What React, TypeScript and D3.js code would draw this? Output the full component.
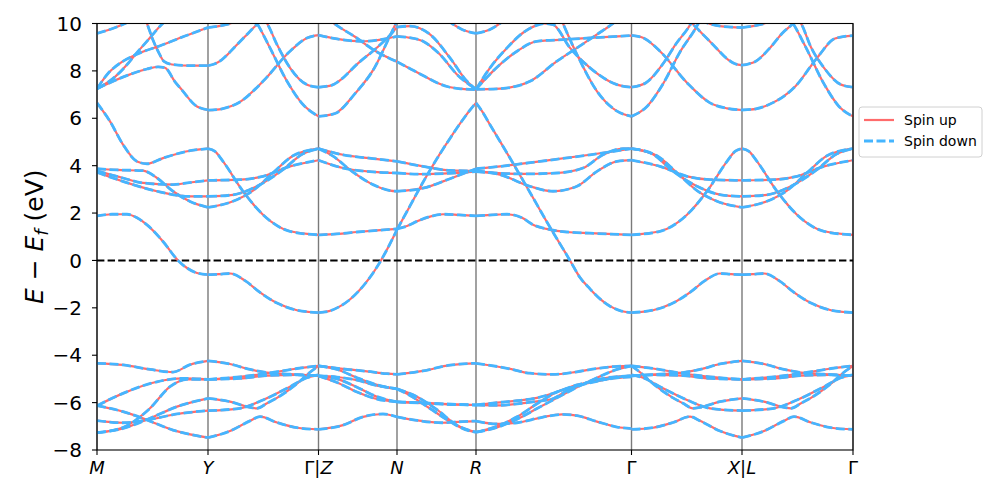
import React from "react";
import * as d3 from "d3";

type Pt = [number, number];

// k path positions of the high-symmetry points (path length, arb. units)
const kTicks = [0, 111, 221.5, 300, 379, 534.5, 645, 756];
const kLabels = [
  [{ t: "M", i: true }],
  [{ t: "Y", i: true }],
  [{ t: "Γ|", i: false }, { t: "Z", i: true }],
  [{ t: "N", i: true }],
  [{ t: "R", i: true }],
  [{ t: "Γ", i: false }],
  [{ t: "X", i: true }, { t: "|", i: false }, { t: "L", i: true }],
  [{ t: "Γ", i: false }],
];
const yTicks = [-8, -6, -4, -2, 0, 2, 4, 6, 8, 10];

// bands, one list per path segment: [k, E - Ef]
const bandsMY: Pt[][] = [
  [[0, 9.58], [15, 9.78], [28, 10.0], [40, 10.25]],
  [[0, 7.25], [18, 7.75], [31, 8.31], [38, 8.67], [51, 9.3], [65, 9.97], [75, 10.3]],
  [[0, 7.25], [11, 7.89], [25, 8.38], [38, 8.67], [65, 9.09], [88, 9.47], [111, 9.83]],
  [[46, 10.4], [50, 10.0], [56, 9.3], [62, 8.75], [67, 8.4], [75, 8.27], [95, 8.22], [111, 8.22]],
  [[0, 7.25], [31, 7.82], [50, 8.08], [61, 8.17], [68, 8.13], [78, 7.54], [85, 7.19], [98, 6.56], [111, 6.35]],
  [[0, 6.65], [13, 5.87], [26, 4.89], [40, 4.18], [50, 4.08], [66, 4.32], [93, 4.63], [111, 4.72]],
  [[0, 3.87], [20, 3.82], [46, 3.79], [60, 3.48], [76, 2.92], [93, 2.49], [111, 2.24]],
  [[0, 3.78], [26, 3.48], [46, 3.27], [76, 3.2], [95, 3.3], [111, 3.38]],
  [[0, 3.72], [36, 3.2], [60, 2.92], [93, 2.7], [111, 2.7]],
  [[0, 1.88], [15, 1.95], [30, 1.95], [40, 1.8], [50, 1.5], [66, 0.8], [81, 0], [90, -0.32], [100, -0.53], [111, -0.6]],
  [[0, -4.34], [26, -4.41], [53, -4.6], [76, -4.71], [93, -4.4], [111, -4.24]],
  [[0, -6.13], [26, -5.61], [60, -5.12], [86, -4.98], [111, -5.02]],
  [[0, -6.13], [26, -6.38], [50, -6.73], [76, -7.16], [111, -7.48]],
  [[0, -6.76], [26, -6.85], [53, -6.71], [80, -6.48], [111, -6.34]],
  [[0, -7.27], [26, -7.09], [53, -6.66], [80, -6.17], [111, -5.82]],
  [[0, -7.27], [26, -7.05], [53, -6.24], [73, -5.33], [90, -5.02], [111, -5.02]],
];

const bandsYZ: Pt[][] = [
  [[111, 9.83], [120, 9.88], [131, 9.97], [142, 10.15]],
  [[111, 8.22], [118, 8.3], [125, 8.48], [138, 9.02], [151, 9.58], [160, 9.97], [168, 10.3]],
  [[163, 10.3], [170, 10.0], [180, 9.11], [193, 8.13], [210, 7.42], [221.5, 7.31]],
  [[153, 10.4], [160, 10.0], [173, 8.97], [190, 7.56], [206, 6.58], [221.5, 6.08]],
  [[111, 6.34], [125, 6.4], [143, 6.69], [166, 7.56], [193, 8.83], [210, 9.39], [221.5, 9.51]],
  [[111, 4.72], [118, 4.6], [126, 4.18], [146, 2.92], [166, 1.93], [193, 1.23], [221.5, 1.08]],
  [[111, 2.24], [136, 2.5], [156, 2.95], [176, 3.7], [196, 4.42], [221.5, 4.72]],
  [[111, 2.7], [136, 2.77], [160, 3.13], [185, 3.8], [206, 4.5], [221.5, 4.72]],
  [[111, 3.38], [143, 3.41], [166, 3.55], [193, 3.97], [221.5, 4.23]],
  [[111, -0.6], [122, -0.58], [133, -0.55], [148, -0.85], [163, -1.35], [180, -1.8], [200, -2.1], [221.5, -2.2]],
  [[111, -4.24], [133, -4.37], [153, -4.6], [170, -4.73], [193, -4.8], [221.5, -4.87]],
  [[111, -5.02], [143, -4.91], [170, -4.77], [200, -4.56], [221.5, -4.45]],
  [[111, -5.02], [143, -4.98], [170, -4.86], [200, -4.83], [221.5, -4.87]],
  [[111, -5.82], [133, -5.96], [153, -6.2], [160, -6.24], [170, -6.03], [180, -5.8], [200, -5.2], [212, -4.75], [221.5, -4.45]],
  [[111, -6.34], [143, -6.24], [166, -5.89], [193, -5.33], [210, -4.95], [221.5, -4.83]],
  [[111, -7.48], [133, -7.2], [153, -6.77], [163, -6.59], [180, -6.84], [200, -7.06], [221.5, -7.13]],
];

const bandsZN: Pt[][] = [
  [[221.5, 9.51], [240, 9.35], [255, 9.27], [268, 9.25], [285, 9.33], [300, 9.46]],
  [[228, 10.3], [238, 9.97], [258, 9.44], [278, 8.85], [300, 8.39]],
  [[221.5, 7.31], [235, 7.4], [241, 7.54], [261, 8.32], [281, 9.02], [295, 9.6], [300, 9.85]],
  [[221.5, 6.08], [238, 6.2], [258, 7.04], [278, 8.17], [291, 9.3], [298, 9.93], [300, 10.1]],
  [[221.5, 1.08], [240, 1.12], [260, 1.2], [280, 1.27], [300, 1.33]],
  [[221.5, -2.2], [232, -2.14], [242, -1.96], [252, -1.68], [262, -1.28], [272, -0.77], [282, -0.14], [292, 0.62], [300, 1.3]],
  [[221.5, 4.72], [246, 4.46], [276, 4.3], [300, 4.18]],
  [[221.5, 4.23], [246, 3.9], [276, 3.74], [300, 3.69]],
  [[221.5, 4.72], [236, 4.4], [255, 3.76], [276, 3.2], [293, 2.95], [300, 2.92]],
  [[221.5, -4.45], [246, -4.58], [270, -4.68], [290, -4.78], [300, -4.81]],
  [[221.5, -4.45], [240, -4.6], [260, -4.95], [280, -5.25], [300, -5.42]],
  [[221.5, -4.87], [240, -4.92], [260, -5.05], [280, -5.28], [300, -5.42]],
  [[221.5, -4.87], [240, -5.0], [260, -5.35], [280, -5.75], [300, -5.97]],
  [[221.5, -4.87], [240, -5.15], [260, -5.55], [280, -5.85], [300, -5.97]],
  [[221.5, -7.13], [246, -6.95], [266, -6.6], [286, -6.48], [300, -6.6]],
];

const bandsNR: Pt[][] = [
  [[300, 9.46], [310, 9.42], [326, 9.25], [343, 8.69], [360, 7.85], [379, 7.22]],
  [[300, 9.85], [313, 9.89], [333, 9.54], [353, 8.55], [370, 7.56], [379, 7.22]],
  [[300, 8.39], [315, 8.05], [328, 7.76], [340, 7.5], [351, 7.33], [365, 7.24], [379, 7.21]],
  [[350, 10.15], [365, 9.75], [379, 9.58]],
  [[300, 1.3], [313, 2.3], [326, 3.3], [340, 4.3], [353, 5.15], [366, 5.95], [374, 6.4], [379, 6.65]],
  [[300, 1.33], [310, 1.45], [320, 1.65], [333, 1.85], [346, 1.95], [362, 1.92], [379, 1.88]],
  [[300, 4.18], [326, 3.97], [353, 3.8], [379, 3.78]],
  [[300, 3.69], [326, 3.64], [353, 3.68], [379, 3.75]],
  [[300, 2.92], [326, 3.05], [353, 3.45], [379, 3.87]],
  [[300, -4.81], [326, -4.66], [353, -4.42], [379, -4.34]],
  [[300, -5.42], [313, -5.7], [333, -6.25], [353, -6.8], [366, -7.1], [379, -7.25]],
  [[300, -5.42], [320, -5.75], [340, -6.3], [360, -6.95], [379, -7.25]],
  [[300, -5.97], [330, -6.03], [355, -6.08], [379, -6.1]],
  [[300, -5.97], [320, -6.0], [345, -6.05], [379, -6.1]],
  [[300, -6.6], [320, -6.75], [345, -6.85], [365, -6.8], [379, -6.78]],
];

const bandsRG: Pt[][] = [
  [[379, 9.58], [393, 9.75], [408, 10.15]],
  [[379, 7.22], [393, 8.13], [410, 8.97], [426, 9.61], [438, 9.9], [447, 10.0], [456, 9.95], [473, 8.97], [493, 8.13], [520, 7.42], [534.5, 7.31]],
  [[379, 7.22], [396, 7.99], [420, 8.83], [440, 9.25], [466, 9.32], [493, 9.39], [534.5, 9.49]],
  [[379, 7.22], [403, 7.25], [433, 7.56], [460, 8.41], [480, 8.97], [500, 9.54], [516, 10.0], [522, 10.2]],
  [[462, 10.4], [466, 10.0], [480, 8.69], [500, 7.14], [520, 6.3], [534.5, 6.08]],
  [[379, 6.65], [385, 6.3], [393, 5.73], [413, 4.32], [433, 2.87], [453, 1.4], [473, 0.0], [483, -0.72], [493, -1.2], [503, -1.62], [513, -1.93], [523, -2.12], [534.5, -2.2]],
  [[379, 1.88], [395, 1.92], [410, 1.95], [425, 1.8], [436, 1.51], [453, 1.3], [470, 1.2], [493, 1.15], [534.5, 1.08]],
  [[379, 3.87], [403, 3.97], [443, 4.18], [493, 4.46], [534.5, 4.72]],
  [[379, 3.78], [403, 3.62], [433, 3.13], [456, 2.92], [480, 3.13], [500, 3.76], [520, 4.18], [534.5, 4.23]],
  [[379, 3.75], [426, 3.65], [460, 3.69], [486, 3.9], [506, 4.46], [526, 4.72], [534.5, 4.72]],
  [[379, -4.34], [410, -4.55], [433, -4.76], [456, -4.81], [480, -4.7], [500, -4.56], [520, -4.47], [534.5, -4.45]],
  [[379, -6.1], [400, -6.0], [420, -5.92], [440, -5.8], [460, -5.55], [480, -5.25], [500, -5.08], [520, -4.96], [534.5, -4.91]],
  [[379, -6.1], [400, -6.12], [420, -6.05], [440, -5.95], [455, -5.85], [470, -5.5], [490, -5.15], [510, -4.95], [534.5, -4.87]],
  [[379, -7.25], [400, -7.05], [420, -6.7], [440, -6.25], [460, -5.8], [480, -5.35], [500, -4.95], [520, -4.6], [534.5, -4.45]],
  [[379, -7.25], [400, -7.0], [420, -6.6], [440, -6.05], [460, -5.55], [480, -5.3], [500, -5.1], [520, -4.93], [534.5, -4.87]],
  [[379, -6.78], [400, -6.9], [420, -6.85], [445, -6.62], [465, -6.5], [480, -6.55], [500, -6.8], [520, -7.03], [534.5, -7.1]],
];

const bandsGX: Pt[][] = [
  [[534.5, 9.5], [546, 9.4], [563, 8.83], [590, 7.5], [613, 6.65], [630, 6.42], [645, 6.35]],
  [[534.5, 7.31], [549, 7.5], [566, 8.3], [580, 9.2], [591, 9.8], [594, 10.0], [600, 10.4]],
  [[534.5, 6.08], [550, 6.5], [566, 7.45], [583, 8.8], [600, 9.9], [605, 10.3]],
  [[588, 10.3], [596, 9.97], [605, 9.58], [618, 9.02], [631, 8.48], [638, 8.3], [645, 8.24]],
  [[603, 10.15], [614, 9.97], [625, 9.88], [645, 9.83]],
  [[534.5, 1.08], [563, 1.23], [590, 1.93], [610, 2.92], [630, 4.18], [638, 4.6], [645, 4.72]],
  [[534.5, 4.23], [563, 3.97], [590, 3.55], [613, 3.41], [645, 3.38]],
  [[534.5, 4.72], [560, 4.42], [580, 3.7], [600, 2.95], [620, 2.5], [645, 2.24]],
  [[534.5, 4.72], [555, 4.5], [575, 3.8], [600, 3.13], [624, 2.77], [645, 2.7]],
  [[534.5, -2.2], [556, -2.1], [576, -1.8], [593, -1.35], [608, -0.85], [623, -0.55], [634, -0.58], [645, -0.6]],
  [[534.5, -4.87], [563, -4.8], [586, -4.73], [603, -4.6], [623, -4.37], [645, -4.24]],
  [[534.5, -4.45], [556, -4.56], [586, -4.77], [613, -4.91], [645, -5.02]],
  [[534.5, -4.87], [556, -4.83], [586, -4.86], [613, -4.98], [645, -5.02]],
  [[534.5, -4.45], [544, -4.75], [556, -5.2], [576, -5.8], [586, -6.03], [596, -6.24], [603, -6.2], [623, -5.96], [645, -5.82]],
  [[534.5, -4.83], [546, -4.95], [563, -5.33], [590, -5.89], [613, -6.24], [645, -6.34]],
  [[534.5, -7.13], [556, -7.06], [576, -6.84], [593, -6.59], [603, -6.77], [623, -7.2], [645, -7.48]],
];

const bandsLG: Pt[][] = [
  [[645, 9.83], [654, 9.88], [665, 9.97], [676, 10.15]],
  [[645, 8.24], [652, 8.3], [658, 8.39], [674, 9.02], [685, 9.58], [696, 10.0], [702, 10.3]],
  [[697, 10.3], [704, 10.0], [714, 9.0], [727, 8.13], [744, 7.42], [756, 7.31]],
  [[689, 10.4], [696, 10.0], [709, 8.98], [727, 7.45], [742, 6.5], [756, 6.08]],
  [[645, 6.35], [659, 6.4], [671, 6.56], [698, 7.33], [721, 8.6], [738, 9.37], [756, 9.49]],
  [[645, 4.72], [652, 4.6], [660, 4.18], [680, 2.92], [700, 1.93], [727, 1.23], [756, 1.08]],
  [[645, 2.24], [670, 2.5], [690, 2.95], [710, 3.7], [730, 4.42], [756, 4.72]],
  [[645, 2.7], [670, 2.77], [694, 3.13], [719, 3.8], [740, 4.5], [756, 4.72]],
  [[645, 3.38], [677, 3.41], [700, 3.55], [727, 3.97], [756, 4.23]],
  [[645, -0.6], [656, -0.58], [667, -0.55], [682, -0.85], [697, -1.35], [714, -1.8], [734, -2.1], [756, -2.2]],
  [[645, -4.24], [667, -4.37], [687, -4.6], [704, -4.73], [727, -4.8], [756, -4.87]],
  [[645, -5.02], [677, -4.91], [704, -4.77], [734, -4.56], [756, -4.45]],
  [[645, -5.02], [677, -4.98], [704, -4.86], [734, -4.83], [756, -4.87]],
  [[645, -5.82], [667, -5.96], [687, -6.2], [694, -6.24], [704, -6.03], [714, -5.8], [734, -5.2], [746, -4.75], [756, -4.45]],
  [[645, -6.34], [677, -6.24], [700, -5.89], [727, -5.33], [744, -4.95], [756, -4.83]],
  [[645, -7.48], [667, -7.2], [687, -6.77], [697, -6.59], [714, -6.84], [734, -7.06], [756, -7.13]],
];

const allBands = [bandsMY, bandsYZ, bandsZN, bandsNR, bandsRG, bandsGX, bandsLG].flat();

const upColor = "#ff6b6b";
const downColor = "#45b5ff";
const font = "DejaVu Sans";

export default function App() {
  const left = 97, right = 853, top = 23.5, bottom = 450;
  const x = d3.scaleLinear().domain([0, 756]).range([left, right]);
  const y = d3.scaleLinear().domain([-8, 10]).range([bottom, top]);
  const line = d3
    .line<Pt>()
    .x((d) => x(d[0]))
    .y((d) => y(d[1]))
    .curve(d3.curveMonotoneX);

  return (
    <svg width={997} height={498} style={{ position: "absolute", left: 0, top: 0, background: "#fff" }}>
      <defs>
        <clipPath id="plotArea">
          <rect x={left} y={top} width={right - left} height={bottom - top} />
        </clipPath>
      </defs>

      {/* high-symmetry lines */}
      {kTicks.map((k, i) => (
        <line key={"v" + i} x1={x(k)} x2={x(k)} y1={top} y2={bottom} stroke="#7a7a7a" strokeWidth={1.4} />
      ))}
      <line x1={left} x2={right} y1={y(0)} y2={y(0)} stroke="#000" strokeWidth={2} strokeDasharray="7.4,3.2" />

      <g clipPath="url(#plotArea)" fill="none">
        {allBands.map((b, i) => (
          <path key={"u" + i} d={line(b) || ""} stroke={upColor} strokeWidth={2.2} />
        ))}
        {allBands.map((b, i) => (
          <path key={"d" + i} d={line(b) || ""} stroke={downColor} strokeWidth={2.8} strokeDasharray="9,3.5" />
        ))}
      </g>

      <rect x={left} y={top} width={right - left} height={bottom - top} fill="none" stroke="#000" strokeWidth={1.1} />

      {/* y axis */}
      {yTicks.map((t) => (
        <g key={"y" + t}>
          <line x1={left - 5} x2={left} y1={y(t)} y2={y(t)} stroke="#000" strokeWidth={1.1} />
          <text x={left - 15} y={y(t)} dy="0.36em" textAnchor="end" fontFamily={font} fontSize={20}>
            {t < 0 ? "\u2212" + Math.abs(t) : t}
          </text>
        </g>
      ))}

      {/* x axis */}
      {kTicks.map((k, i) => (
        <g key={"x" + i}>
          <line x1={x(k)} x2={x(k)} y1={bottom} y2={bottom + 5} stroke="#000" strokeWidth={1.1} />
          <text x={x(k)} y={474} textAnchor="middle" fontFamily={font} fontSize={18}>
            {kLabels[i].map((p, j) => (
              <tspan key={j} fontStyle={p.i ? "italic" : "normal"}>{p.t}</tspan>
            ))}
          </text>
        </g>
      ))}

      <text transform={`translate(43,${(top + bottom) / 2}) rotate(-90)`} textAnchor="middle" fontFamily={font} fontSize={25}>
        <tspan fontStyle="italic">E</tspan>
        <tspan> {"\u2212"} </tspan>
        <tspan fontStyle="italic">E</tspan>
        <tspan fontStyle="italic" fontSize={18} dy={5}>f</tspan>
        <tspan dy={-5}> (eV)</tspan>
      </text>

      {/* legend */}
      <g fontFamily={font} fontSize={14}>
        <rect x={859} y={107} width={123} height={50} rx={3} fill="#fff" fillOpacity={0.8} stroke="#d0d0d0" />
        <line x1={864} x2={894} y1={120} y2={120} stroke={upColor} strokeWidth={2.2} />
        <text x={904} y={125}>Spin up</text>
        <line x1={864} x2={894} y1={141} y2={141} stroke={downColor} strokeWidth={2.8} strokeDasharray="9,3.5" />
        <text x={904} y={146}>Spin down</text>
      </g>
    </svg>
  );
}
